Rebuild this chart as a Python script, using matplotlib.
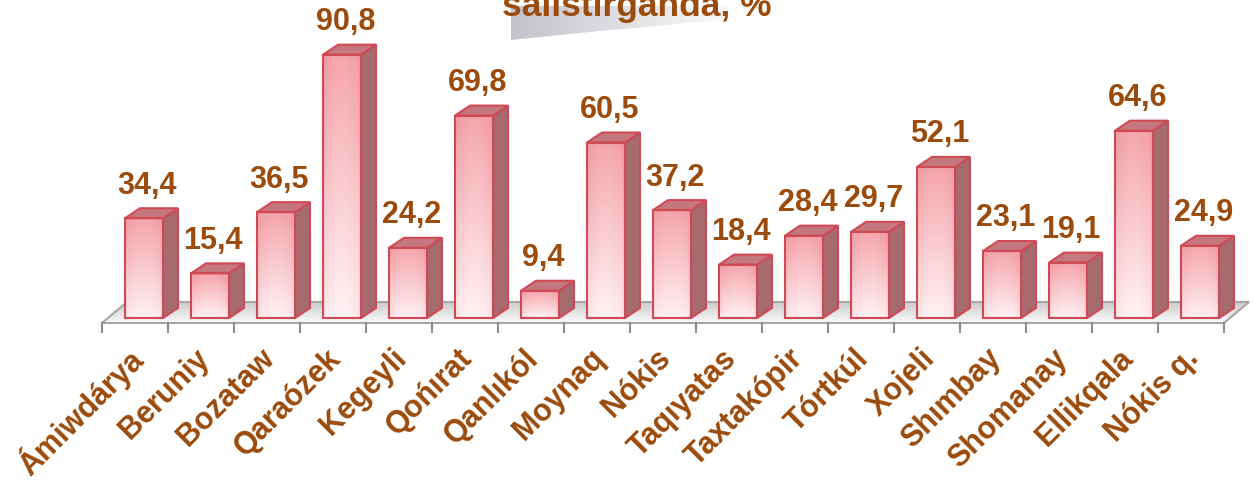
import numpy as np
from matplotlib import pyplot as plt
from matplotlib.patches import Polygon, Rectangle

plt.rcParams['font.family'] = ['Liberation Sans', 'DejaVu Sans']

districts = ["Ámiwdárya", "Beruniy", "Bozataw", "Qaraózek", "Kegeyli",
             "Qońırat", "Qanlıkól", "Moynaq", "Nókis", "Taqıyatas",
             "Taxtakópir", "Tórtkúl", "Xojeli", "Shımbay", "Shomanay",
             "Ellikqala", "Nókis q."]
values = [34.4, 15.4, 36.5, 90.8, 24.2, 69.8, 9.4, 60.5, 37.2, 18.4,
          28.4, 29.7, 52.1, 23.1, 19.1, 64.6, 24.9]
value_labels = ["34,4", "15,4", "36,5", "90,8", "24,2", "69,8", "9,4",
                "60,5", "37,2", "18,4", "28,4", "29,7", "52,1", "23,1",
                "19,1", "64,6", "24,9"]
title = "salıstırganda, %"

W, H = 1253, 484
brown = '#9B4B0C'
edge = '#D04A55'
side_col = '#A66A6F'
top_col = '#C4777D'

# pixel mapping: x = 135 + 66*i, y = 318 - 2.9*v
px_x0, px_per_cat = 135.0, 66.0
px_y0, px_per_unit = 318.0, 2.9

fig = plt.figure(figsize=(W / 100, H / 100), dpi=100)

# decoration layer (title + swoosh), in pixel coordinates
deco = fig.add_axes([0, 0, 1, 1])
deco.axis('off')
sw = Polygon([(511, 6), (810, 6), (790, 12), (700, 22), (600, 31),
              (511, 40)], closed=True, facecolor='none', edgecolor='none')
deco.add_patch(sw)
grad = np.clip(np.linspace(0, 1.3, 200), 0, 1)[None, :]
sw_img = np.zeros((2, 200, 3))
for k, a in enumerate((0.76, 0.76, 0.79)):
    sw_img[:, :, k] = a + (1.0 - a) * grad
img = deco.imshow(sw_img, extent=[511, 810, 40, 6], aspect='auto',
                  interpolation='bilinear')
img.set_clip_path(sw)
deco.set_xlim(0, W)
deco.set_ylim(H, 0)
deco.text(502, 16, title, fontsize=25.5, fontweight='bold', color=brown,
          ha='left', va='baseline')

ax = fig.add_axes([0, 0, 1, 1])
ax.patch.set_alpha(0)
ax.axis('off')

n = len(values)
bar_w = 38 / px_per_cat
bar_off = -10 / px_per_cat
dx = 15 / px_per_cat
dy = 10 / px_per_unit

# floor
yf = -5 / px_per_unit
fdx = 25 / px_per_cat
fdy = 21 / px_per_unit
floor_pts = [(-0.5, yf), (n - 0.5, yf), (n - 0.5 + fdx, yf + fdy),
             (-0.5 + fdx, yf + fdy)]
floor = Polygon(floor_pts, closed=True, facecolor='none',
                edgecolor='#A6A6A6', linewidth=1.5, zorder=2)
ax.add_patch(floor)
fl = np.linspace(0, 1, 50)[:, None] * np.ones((1, 2))
fl_img = np.dstack([0.80 + 0.18 * fl] * 3)
fimg = ax.imshow(fl_img, extent=[-0.5, n - 0.5 + fdx, yf, yf + fdy],
                 origin='upper', aspect='auto', interpolation='bilinear',
                 zorder=1)
fimg.set_clip_path(floor)
for k in range(n + 1):
    ax.plot([k - 0.5, k - 0.5], [yf, yf - 9 / px_per_unit],
            color='#8C8C8C', linewidth=1.5, zorder=2)

# bars
dark = np.array([0.95, 0.60, 0.63])
light = np.array([1.0, 0.95, 0.96])
yy, xx = np.mgrid[0:1:80j, 0:1:30j]
shade = (1 - yy) * 0.85 + 0.15 * (1 - np.sin(np.pi * xx))
shade = np.clip(shade, 0, 1)
bar_img = light + (dark - light) * shade[:, :, None]

bars = ax.bar(np.arange(n) + bar_off + bar_w / 2, values, width=bar_w,
              facecolor='none', edgecolor=edge, linewidth=1.5, zorder=4)
for i, (b, v) in enumerate(zip(bars, values)):
    x0 = b.get_x()
    x1 = x0 + b.get_width()
    im = ax.imshow(bar_img, extent=[x0, x1, 0, v], origin='upper',
                   aspect='auto', interpolation='bilinear', zorder=3)
    clip = Rectangle((x0, 0), x1 - x0, v, transform=ax.transData)
    im.set_clip_path(clip)
    ax.add_patch(Polygon([(x1, 0), (x1 + dx, dy), (x1 + dx, v + dy),
                          (x1, v)], closed=True, facecolor=side_col,
                         edgecolor=edge, linewidth=1.5, zorder=3))
    ax.add_patch(Polygon([(x0, v), (x1, v), (x1 + dx, v + dy),
                          (x0 + dx, v + dy)], closed=True,
                         facecolor=top_col, edgecolor=edge, linewidth=1.5,
                         zorder=3))
    ax.text((x0 + x1) / 2 + 0.05, v + dy + 2.6, value_labels[i],
            fontsize=22, fontweight='bold', color=brown,
            ha='center', va='bottom', zorder=5)
    ax.text(i + 0.05, -12.4, districts[i], fontsize=22, fontweight='bold',
            color=brown, rotation=45, rotation_mode='anchor',
            ha='right', va='center', zorder=5)

ax.set_xlim((0 - px_x0) / px_per_cat, (W - px_x0) / px_per_cat)
ax.set_ylim((px_y0 - H) / px_per_unit, px_y0 / px_per_unit)

fig.savefig('out.png', dpi=100)
